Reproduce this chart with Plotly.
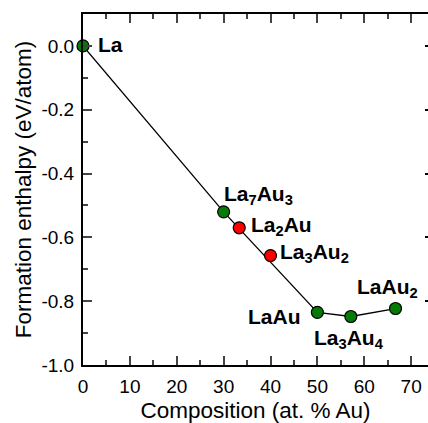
import plotly.graph_objects as go

# Data
names = ["La", "La<sub>7</sub>Au<sub>3</sub>", "La<sub>2</sub>Au", "La<sub>3</sub>Au<sub>2</sub>",
         "LaAu", "La<sub>3</sub>Au<sub>4</sub>", "LaAu<sub>2</sub>"]
comp = [0.0, 30.0, 33.33, 40.0, 50.0, 57.14, 66.67]
enthalpy = [0.0, -0.52, -0.57, -0.657, -0.835, -0.848, -0.823]
stable = [True, True, False, False, True, True, True]

y_tickvals = [0.0, -0.2, -0.4, -0.6, -0.8, -1.0]
y_ticktext = ["0.0", "-0.2", "-0.4", "-0.6", "-0.8", "-1.0"]

hull_x = [c for c, s in zip(comp, stable) if s]
hull_y = [e for e, s in zip(enthalpy, stable) if s]
red_x = [c for c, s in zip(comp, stable) if not s]
red_y = [e for e, s in zip(enthalpy, stable) if not s]

# label placement (anchor, shift) per compound
label_pos = [
    ("left", "middle", 13, 1),
    ("left", "bottom", -2, 2),
    ("left", "middle", 10, 2),
    ("left", "middle", 7, 3),
    ("right", "middle", -14, -4),
    ("center", "top", -2, -7),
    ("center", "bottom", -8, 6),
]

FONT = "Liberation Sans, Arial, sans-serif"

fig = go.Figure()
fig.add_trace(go.Scatter(x=hull_x, y=hull_y, mode="lines",
                         line=dict(color="black", width=1.3), showlegend=False, cliponaxis=False))
fig.add_trace(go.Scatter(x=hull_x, y=hull_y, mode="markers", showlegend=False, cliponaxis=False,
                         marker=dict(size=12, color="#067a06", line=dict(color="black", width=1.2))))
fig.add_trace(go.Scatter(x=red_x, y=red_y, mode="markers", showlegend=False, cliponaxis=False,
                         marker=dict(size=12, color="#ff0000", line=dict(color="black", width=1.2))))
fig.add_trace(go.Scatter(x=[], y=[], yaxis="y2", showlegend=False))

for n, cx, cy, (xa, ya, dx, dy) in zip(names, comp, enthalpy, label_pos):
    fig.add_annotation(x=cx, y=cy, text="<b>" + n + "</b>", showarrow=False,
                       xanchor=xa, yanchor=ya, xshift=dx, yshift=dy,
                       font=dict(family=FONT, size=21, color="black"))

axis_font = dict(family=FONT, size=19, color="black")
fig.update_layout(
    width=428, height=423,
    margin=dict(l=83, r=0, t=14, b=58),
    plot_bgcolor="white", paper_bgcolor="white",
    font=dict(family=FONT, color="black"),
    xaxis=dict(range=[0, 73.6], dtick=10, tick0=0, ticks="inside", ticklen=9, tickwidth=2,
               showline=True, linewidth=2, linecolor="black", mirror="ticks",
               showgrid=False, zeroline=False, tickfont=axis_font, layer="above traces",
               ticklabelstandoff=3,
               minor=dict(ticks="inside", ticklen=5, tickwidth=2, dtick=5, showgrid=False),
               title=dict(text="Composition (at. % Au)", font=dict(family=FONT, size=22.5),
                          standoff=8)),
    yaxis=dict(range=[-1.0, 0.1], tickvals=y_tickvals, ticktext=y_ticktext,
               ticks="inside", ticklen=9, tickwidth=2,
               showline=True, linewidth=2, linecolor="black",
               showgrid=False, zeroline=False, tickfont=axis_font, layer="above traces",
               ticklabelstandoff=3,
               minor=dict(ticks="inside", ticklen=5, tickwidth=2, dtick=0.1, showgrid=False),
               title=dict(text="Formation enthalpy (eV/atom)", font=dict(family=FONT, size=22.5),
                          standoff=4)),
    yaxis2=dict(range=[-1.0, 0.1], tickvals=y_tickvals, overlaying="y", side="right", anchor="x",
                ticks="inside", ticklen=3, tickwidth=2, tickcolor="black", showticklabels=False,
                showgrid=False, zeroline=False, showline=False),
)

fig.write_html("out.html")
